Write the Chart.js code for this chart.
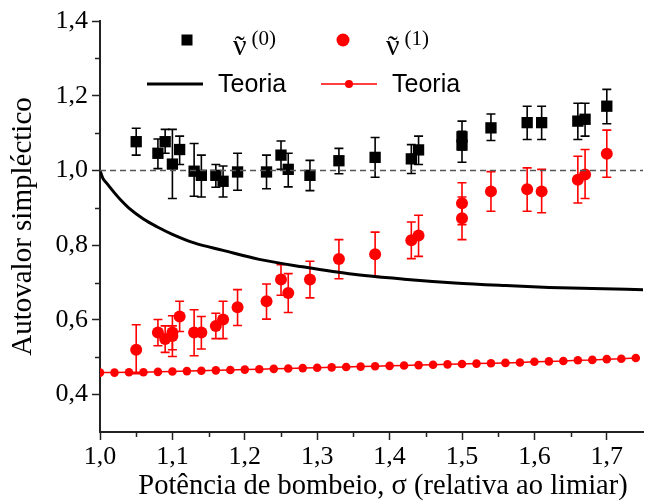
<!DOCTYPE html>
<html>
<head>
<meta charset="utf-8">
<script src="https://cdn.jsdelivr.net/npm/chart.js@4.4.1/dist/chart.umd.min.js"></script>
<style>
  html, body { margin: 0; padding: 0; background: #fff; overflow: hidden; }
  #wrap { width: 651px; height: 502px; }
</style>
</head>
<body>
<div id="wrap"><canvas id="chart" width="651" height="502"></canvas></div>
<script>
  'use strict';

  // measured eigenvalue, mode 0 (black squares)
  var sigma0 = [1.05, 1.08, 1.09, 1.10, 1.11, 1.13, 1.14, 1.16, 1.17, 1.19, 1.23, 1.25, 1.26,
                1.29, 1.33, 1.38, 1.43, 1.44, 1.50, 1.50, 1.54, 1.59, 1.61, 1.66, 1.67, 1.70];
  var nu0    = [1.077, 1.046, 1.077, 1.017, 1.056, 0.998, 0.987, 0.987, 0.971, 0.996, 0.996, 1.041, 1.003,
                0.987, 1.026, 1.035, 1.031, 1.055, 1.090, 1.068, 1.114, 1.128, 1.128, 1.132, 1.137, 1.172];
  var nu0Lo  = [1.041, 1.005, 1.046, 0.925, 1.016, 0.931, 0.929, 0.955, 0.929, 0.947, 0.951, 1.003, 0.956,
                0.946, 0.991, 0.982, 0.992, 1.016, 1.055, 1.022, 1.080, 1.083, 1.083, 1.083, 1.092, 1.125];
  var nu0Hi  = [1.113, 1.084, 1.110, 1.110, 1.092, 1.072, 1.041, 1.016, 1.012, 1.046, 1.041, 1.079, 1.046,
                1.027, 1.059, 1.088, 1.069, 1.092, 1.132, 1.105, 1.151, 1.172, 1.172, 1.180, 1.180, 1.217];

  // measured eigenvalue, mode 1 (red circles)
  var sigma1 = [1.05, 1.08, 1.09, 1.10, 1.10, 1.11, 1.13, 1.14, 1.16, 1.17, 1.19, 1.23, 1.25, 1.26,
                1.29, 1.33, 1.38, 1.43, 1.44, 1.50, 1.50, 1.54, 1.59, 1.61, 1.66, 1.67, 1.70];
  var nu1    = [0.520, 0.566, 0.549, 0.566, 0.557, 0.609, 0.566, 0.566, 0.584, 0.601, 0.634, 0.650, 0.708, 0.672,
                0.708, 0.763, 0.776, 0.813, 0.826, 0.912, 0.872, 0.944, 0.950, 0.944, 0.975, 0.989, 1.045];
  var nu1Lo  = [0.456, 0.531, 0.513, 0.502, 0.520, 0.569, 0.504, 0.522, 0.550, 0.550, 0.585, 0.602, 0.666, 0.620,
                0.659, 0.710, 0.717, 0.764, 0.770, 0.855, 0.815, 0.891, 0.891, 0.887, 0.913, 0.925, 0.982];
  var nu1Hi  = [0.587, 0.601, 0.584, 0.611, 0.584, 0.650, 0.627, 0.609, 0.618, 0.650, 0.681, 0.696, 0.748, 0.724,
                0.757, 0.815, 0.835, 0.862, 0.880, 0.967, 0.929, 0.997, 1.007, 1.003, 1.038, 1.056, 1.108];

  // theory, mode 0 (solid black curve)
  var theorySigma0 = [1.000, 1.004, 1.010, 1.020, 1.030, 1.040, 1.060, 1.080, 1.100, 1.130, 1.170, 1.220,
                      1.280, 1.350, 1.420, 1.490, 1.560, 1.620, 1.680, 1.750];
  var theoryNu0    = [1.000, 0.979, 0.964, 0.940, 0.918, 0.899, 0.870, 0.848, 0.829, 0.806, 0.786, 0.762,
                      0.742, 0.722, 0.709, 0.699, 0.692, 0.687, 0.684, 0.681];

  // theory, mode 1 (red line with dots)
  var theorySigma1 = [1.00, 1.02, 1.04, 1.06, 1.08, 1.10, 1.12, 1.14, 1.16, 1.18, 1.20, 1.22, 1.24,
                      1.26, 1.28, 1.30, 1.32, 1.34, 1.36, 1.38, 1.40, 1.42, 1.44, 1.46, 1.48, 1.50,
                      1.52, 1.54, 1.56, 1.58, 1.60, 1.62, 1.64, 1.66, 1.68, 1.70, 1.72, 1.74];
  var theoryNu1    = [0.459, 0.459, 0.460, 0.460, 0.461, 0.462, 0.463, 0.464, 0.465, 0.466, 0.467, 0.468, 0.469,
                      0.470, 0.471, 0.472, 0.473, 0.474, 0.475, 0.476, 0.477, 0.478, 0.479, 0.480, 0.481, 0.482,
                      0.483, 0.484, 0.485, 0.486, 0.488, 0.489, 0.490, 0.492, 0.493, 0.495, 0.496, 0.498];

  // threshold reference (dashed line at 1)
  var refSigma = [1.00, 1.75];
  var refNu    = [1.0, 1.0];

  var xMajor = [1.0, 1.1, 1.2, 1.3, 1.4, 1.5, 1.6, 1.7];
  var yMajor = [0.4, 0.6, 0.8, 1.0, 1.2, 1.4];

  var xTitle = 'Potência de bombeio, σ (relativa ao limiar)';
  var yTitle = 'Autovalor simpléctico';

  var RED = '#ff0000';
  var SERIF = "'Liberation Serif', 'Times New Roman', serif";
  var SANS = "'Liberation Sans', Arial, sans-serif";

  function points(xs, ys, lo, hi) {
    return xs.map(function (x, i) {
      var p = { x: x, y: ys[i] };
      if (lo) { p.yMin = lo[i]; p.yMax = hi[i]; }
      return p;
    });
  }

  function isMajor(list, v) {
    return list.some(function (m) { return Math.abs(m - v) < 1e-6; });
  }

  function comma(v) {
    return v.toFixed(1).replace('.', ',');
  }

  // vertical error bars with caps, drawn under each dataset's markers
  var errorBars = {
    id: 'errorBars',
    beforeDatasetDraw: function (chart, args) {
      var ds = chart.data.datasets[args.index];
      if (!ds.errorColor) return;
      var ctx = chart.ctx;
      var xs = chart.scales.x, ys = chart.scales.y;
      ctx.save();
      ctx.strokeStyle = ds.errorColor;
      ctx.lineWidth = 1.6;
      ds.data.forEach(function (p) {
        var px = xs.getPixelForValue(p.x);
        var top = ys.getPixelForValue(p.yMax);
        var bot = ys.getPixelForValue(p.yMin);
        ctx.beginPath();
        ctx.moveTo(px, top); ctx.lineTo(px, bot);
        ctx.moveTo(px - 4.5, top); ctx.lineTo(px + 4.5, top);
        ctx.moveTo(px - 4.5, bot); ctx.lineTo(px + 4.5, bot);
        ctx.stroke();
      });
      ctx.restore();
    }
  };

  // short minor ticks between the labelled ones, plus the x-axis title
  var axisExtras = {
    id: 'axisExtras',
    afterDraw: function (chart) {
      var ctx = chart.ctx;
      var xs = chart.scales.x, ys = chart.scales.y;
      ctx.save();
      ctx.strokeStyle = '#222';
      ctx.lineWidth = 1.5;
      ctx.beginPath();
      xs.ticks.forEach(function (t) {
        if (isMajor(xMajor, t.value) || t.value >= 1.749) return;
        var px = Math.round(xs.getPixelForValue(t.value)) + 0.5;
        ctx.moveTo(px, xs.top); ctx.lineTo(px, xs.top + 5);
      });
      ys.ticks.forEach(function (t) {
        if (isMajor(yMajor, t.value) || t.value < 0.35) return;
        var py = Math.round(ys.getPixelForValue(t.value)) + 0.5;
        ctx.moveTo(ys.right, py); ctx.lineTo(ys.right - 5, py);
      });
      ctx.stroke();

      ctx.fillStyle = '#000';
      ctx.font = '28.5px ' + SERIF;
      ctx.textAlign = 'center';
      ctx.textBaseline = 'middle';
      ctx.fillText(xTitle, 383, 487);
      ctx.restore();
    }
  };

  // nu with a tilde on top and a raised mode index
  function drawNu(ctx, x, y, sup) {
    ctx.font = '30px ' + SERIF;
    ctx.textBaseline = 'alphabetic';
    ctx.textAlign = 'left';
    var w = ctx.measureText('\u03bd').width;
    ctx.fillText('\u03bd', x, y);
    ctx.textAlign = 'center';
    ctx.fillText('\u02dc', x + w / 2, y + 1);
    ctx.textAlign = 'left';
    ctx.font = '21px ' + SERIF;
    ctx.fillText(sup, x + w + 5, y - 10);
  }

  // two-row legend in the upper part of the plot
  var legendBox = {
    id: 'legendBox',
    afterDraw: function (chart) {
      var ctx = chart.ctx;
      ctx.save();
      ctx.fillStyle = '#000';
      ctx.fillRect(181.5, 34.5, 11, 11);
      drawNu(ctx, 233, 55, '(0)');

      ctx.fillStyle = RED;
      ctx.beginPath(); ctx.arc(343, 40, 6.5, 0, Math.PI * 2); ctx.fill();
      ctx.fillStyle = '#000';
      drawNu(ctx, 386, 55, '(1)');

      ctx.strokeStyle = '#000';
      ctx.lineWidth = 3;
      ctx.beginPath(); ctx.moveTo(147, 84); ctx.lineTo(203, 84); ctx.stroke();
      ctx.font = '25px ' + SANS;
      ctx.textBaseline = 'middle';
      ctx.fillText('Teoria', 218, 85);

      ctx.strokeStyle = RED;
      ctx.lineWidth = 1.5;
      ctx.beginPath(); ctx.moveTo(321, 84); ctx.lineTo(377, 84); ctx.stroke();
      ctx.fillStyle = RED;
      ctx.beginPath(); ctx.arc(349, 84, 4, 0, Math.PI * 2); ctx.fill();
      ctx.fillStyle = '#000';
      ctx.fillText('Teoria', 392, 85);
      ctx.restore();
    }
  };

  var ctx = document.getElementById('chart').getContext('2d');
  window.eigenChart = new Chart(ctx, {
    type: 'scatter',
    data: {
      datasets: [
        {
          label: 'ref',
          data: points(refSigma, refNu),
          showLine: true,
          borderColor: '#555',
          borderWidth: 1.5,
          borderDash: [6, 4],
          pointRadius: 0
        },
        {
          label: 'Teoria 0',
          data: points(theorySigma0, theoryNu0),
          showLine: true,
          borderColor: '#000',
          borderWidth: 3,
          cubicInterpolationMode: 'monotone',
          pointRadius: 0
        },
        {
          label: 'Teoria 1',
          data: points(theorySigma1, theoryNu1),
          showLine: true,
          borderColor: RED,
          borderWidth: 1.5,
          pointRadius: 4.3,
          pointBackgroundColor: RED,
          pointBorderWidth: 0
        },
        {
          label: 'nu 0',
          data: points(sigma0, nu0, nu0Lo, nu0Hi),
          errorColor: '#000',
          pointStyle: 'rect',
          pointRadius: 8,
          pointBackgroundColor: '#000',
          pointBorderWidth: 0
        },
        {
          label: 'nu 1',
          data: points(sigma1, nu1, nu1Lo, nu1Hi),
          errorColor: RED,
          pointStyle: 'circle',
          pointRadius: 6,
          pointBackgroundColor: RED,
          pointBorderWidth: 0
        }
      ]
    },
    options: {
      responsive: false,
      animation: false,
      layout: { padding: { top: 21, right: 0, left: 0, bottom: 0 } },
      plugins: {
        legend: { display: false },
        tooltip: { enabled: false }
      },
      scales: {
        x: {
          type: 'linear',
          min: 1.0,
          max: 1.75,
          afterFit: function (s) { s.height = 70; },
          border: { display: true, color: '#222', width: 2 },
          grid: {
            drawOnChartArea: false,
            tickLength: 8,
            tickWidth: 1.5,
            tickColor: function (c) {
              return c.tick && isMajor(xMajor, c.tick.value) ? '#222' : 'rgba(0,0,0,0)';
            }
          },
          ticks: {
            stepSize: 0.05,
            autoSkip: false,
            maxRotation: 0,
            padding: 2,
            color: '#000',
            font: { family: SERIF, size: 26 },
            callback: function (v) { return isMajor(xMajor, v) ? comma(v) : ''; }
          }
        },
        y: {
          type: 'linear',
          min: 0.3,
          max: 1.4,
          afterFit: function (s) { s.width = 100; },
          border: { display: true, color: '#222', width: 2 },
          grid: {
            drawOnChartArea: false,
            tickLength: 8,
            tickWidth: 1.5,
            tickColor: function (c) {
              return c.tick && isMajor(yMajor, c.tick.value) ? '#222' : 'rgba(0,0,0,0)';
            }
          },
          ticks: {
            stepSize: 0.1,
            autoSkip: false,
            padding: 4,
            color: '#000',
            font: { family: SERIF, size: 26 },
            callback: function (v) { return isMajor(yMajor, v) ? comma(v) : ''; }
          },
          title: {
            display: true,
            text: yTitle,
            color: '#000',
            font: { family: SERIF, size: 29 },
            padding: { top: 6, bottom: 0 }
          }
        }
      }
    },
    plugins: [errorBars, axisExtras, legendBox]
  });
</script>
</body>
</html>
